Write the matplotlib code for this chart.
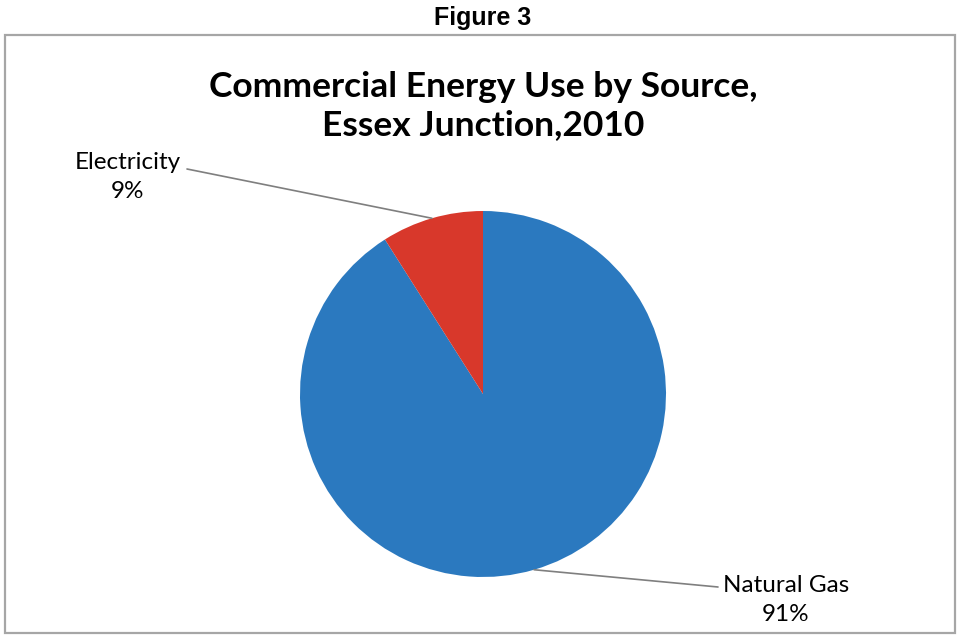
import numpy as np
import matplotlib.pyplot as plt
from matplotlib.patches import Rectangle

# data
sources = ['Natural Gas', 'Electricity']
shares = [91, 9]
colors = ['#2b79bf', '#d8382b']

W, H = 958, 635
fig = plt.figure(figsize=(W / 100, H / 100), dpi=100)

def fx(px):
    return px / W

def fy(py):
    return 1 - py / H

# chart border
fig.patches.append(Rectangle((fx(5), fy(633)), fx(955) - fx(5), fy(35) - fy(633),
                             transform=fig.transFigure, fill=False,
                             edgecolor='#a6a6a6', lw=1.6))

fig.text(fx(483), fy(18), 'Figure 3', ha='center', va='center',
         family='Liberation Sans', weight='bold', fontsize=18)

fig.text(fx(483), fy(106), 'Commercial Energy Use by Source,\nEssex Junction,2010',
         ha='center', va='center', family='Lato', weight='bold', fontsize=25.5,
         linespacing=1.25)

# pie axes: center (483, 394) px, radius 183 px
cx, cy, r = 483, 394, 183
ax = fig.add_axes([fx(cx - r), fy(cy + r), (2 * r) / W, (2 * r) / H])
wedges, _ = ax.pie(shares, colors=colors, startangle=90, counterclock=False,
                   radius=1, wedgeprops=dict(linewidth=0))
ax.set_xlim(-1, 1)
ax.set_ylim(-1, 1)

label_pos = {'Electricity': (128, 177), 'Natural Gas': (786, 600)}
line_end = {'Electricity': (187, 169), 'Natural Gas': (718, 587)}

for w, name, pct in zip(wedges, sources, shares):
    ang = np.deg2rad((w.theta1 + w.theta2) / 2)
    x, y = np.cos(ang), np.sin(ang)
    ex, ey = line_end[name]
    ax.annotate('', xy=(x, y), xycoords='data',
                xytext=(fx(ex), fy(ey)), textcoords='figure fraction',
                arrowprops=dict(arrowstyle='-', color='#7f7f7f', lw=1.2,
                                shrinkA=0, shrinkB=0))
    lx, ly = label_pos[name]
    fig.text(fx(lx), fy(ly), f'{name}\n{pct}%', ha='center', va='center',
             family='Lato', fontsize=17.5, linespacing=1.45)

fig.savefig('out.png', dpi=100)
